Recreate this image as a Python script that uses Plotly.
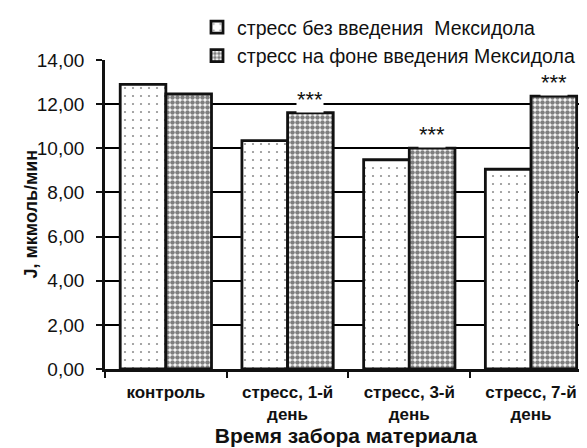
import plotly.graph_objects as go

categories = ["контроль", "стресс, 1-й<br>день", "стресс, 3-й<br>день", "стресс, 7-й<br>день"]
series_names = ["стресс без введения  Мексидола", "стресс на фоне введения Мексидола"]
stress_only = [12.90, 10.35, 9.48, 9.05]
stress_mexidol = [12.46, 11.61, 10.01, 12.36]
significance = ["", "***", "***", "***"]
y_ticks = [0, 2, 4, 6, 8, 10, 12, 14]
y_tick_labels = ["0,00", "2,00", "4,00", "6,00", "8,00", "10,00", "12,00", "14,00"]

FONT = "Liberation Sans, Arial, sans-serif"
INK = "#111111"

fig = go.Figure()
fig.add_trace(go.Bar(
    x=categories, y=stress_only, name=series_names[0],
    marker=dict(color="white", line=dict(color=INK, width=2.8),
                pattern=dict(shape=".", size=8, solidity=0.06, fgcolor="#222222", bgcolor="white")),
))
fig.add_trace(go.Bar(
    x=categories, y=stress_mexidol, name=series_names[1],
    marker=dict(color="white", line=dict(color=INK, width=2.8),
                pattern=dict(shape=".", size=5, solidity=0.66, fgcolor="#000000", bgcolor="white")),
))

for i, (cat, v, s) in enumerate(zip(categories, stress_mexidol, significance)):
    if s:
        fig.add_annotation(x=i + 0.1875, y=v, xref="x", yref="y", text=s, showarrow=False,
                           yanchor="bottom", yshift=0, bgcolor="white", borderpad=0,
                           font=dict(family=FONT, size=22, color=INK))

# y-axis title placed beside the tick labels
fig.add_annotation(x=(22 - 97) / 482, y=0.5, xref="paper", yref="paper", text="<b>J, мкмоль/мин</b>",
                   textangle=-90, showarrow=False, xanchor="center", yanchor="middle",
                   font=dict(family=FONT, size=18, color=INK))

fig.update_layout(
    width=579, height=440,
    margin=dict(l=97, r=0, t=41, b=79),
    paper_bgcolor="white", plot_bgcolor="white",
    barmode="group", bargap=0.25, bargroupgap=0,
    font=dict(family=FONT, color=INK),
    legend=dict(x=(197 - 105) / 482, xanchor="left", y=(369 + 5) / 320, yanchor="top",
                bgcolor="white", font=dict(family=FONT, size=19.5, color=INK),
                itemwidth=30, tracegroupgap=0),
    xaxis=dict(range=[-0.5, 3.46], showline=True, linecolor=INK, linewidth=2.8,
               ticks="outside", tickson="boundaries", ticklen=6, tickcolor=INK, tickwidth=2,
               ticklabelstandoff=6,
               tickfont=dict(family=FONT, size=17, color=INK, weight="bold"),
               title=dict(text="<b>Время забора материала</b>", font=dict(family=FONT, size=21, color=INK),
                          standoff=4),
               showgrid=False, fixedrange=True),
    yaxis=dict(range=[0, 14], tickvals=y_ticks, ticktext=y_tick_labels,
               showline=True, linecolor=INK, linewidth=2.8,
               ticks="outside", ticklen=6, tickcolor=INK, tickwidth=2,
               ticklabelstandoff=8,
               tickfont=dict(family=FONT, size=19, color=INK),
               showgrid=True, gridcolor="#000000", gridwidth=1.6,
               zeroline=False, fixedrange=True),
)

fig.write_html("out.html")
